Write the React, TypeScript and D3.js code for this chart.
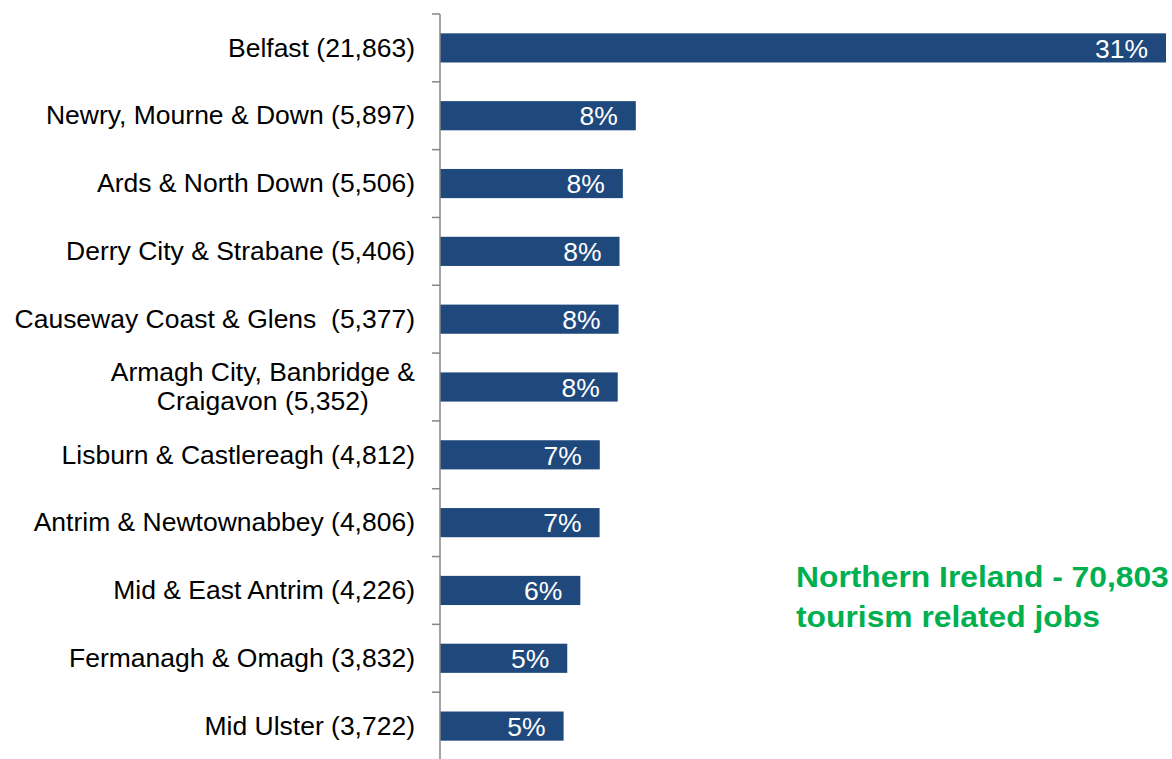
import { useEffect, useRef, useState } from "react";
import * as d3 from "d3";

const WIDTH = 1172;
const HEIGHT = 759;
const MARGIN = { top: 14, right: 6, bottom: 0, left: 440 };
const FONT = "'Liberation Sans', Arial, sans-serif";
const STRETCH = 1.06; // reference text is slightly wider than plain Arial

const districts = [
  ["Belfast (21,863)"],
  ["Newry, Mourne & Down (5,897)"],
  ["Ards & North Down (5,506)"],
  ["Derry City & Strabane (5,406)"],
  ["Causeway Coast & Glens  (5,377)"],
  ["Armagh City, Banbridge &", "Craigavon (5,352)"],
  ["Lisburn & Castlereagh (4,812)"],
  ["Antrim & Newtownabbey (4,806)"],
  ["Mid & East Antrim (4,226)"],
  ["Fermanagh & Omagh (3,832)"],
  ["Mid Ulster (3,722)"],
];
const jobs = [21863, 5897, 5506, 5406, 5377, 5352, 4812, 4806, 4226, 3832, 3722];
const shares = ["31%", "8%", "8%", "8%", "8%", "8%", "7%", "7%", "6%", "5%", "5%"];
const summary = ["Northern Ireland - 70,803", "tourism related jobs"];

const BAR_COLOR = "#1F497D";
const AXIS_COLOR = "#868686";

const Label = ({ lines, y }: { lines: string[]; y: number }) => {
  const first = useRef<SVGTextElement>(null);
  const [w1, setW1] = useState(0);
  useEffect(() => {
    if (first.current) setW1(first.current.getComputedTextLength());
  }, []);
  const style = { whiteSpace: "pre" as const };
  if (lines.length === 1) {
    return (
      <g transform={`translate(-25,${y}) scale(${STRETCH},1)`}>
        <text textAnchor="end" dominantBaseline="central" fontSize={25} style={style}>
          {lines[0]}
        </text>
      </g>
    );
  }
  // wrapped label: lines centered on each other, block right-aligned
  return (
    <g transform={`translate(-25,${y}) scale(${STRETCH},1)`}>
      <text ref={first} y={-14.5} textAnchor="end" dominantBaseline="central" fontSize={25} style={style}>
        {lines[0]}
      </text>
      <text x={-w1 / 2} y={14.5} textAnchor="middle" dominantBaseline="central" fontSize={25} style={style}>
        {lines[1]}
      </text>
    </g>
  );
};

export default function App() {
  const boundsWidth = WIDTH - MARGIN.left - MARGIN.right;
  const boundsHeight = HEIGHT - MARGIN.top - MARGIN.bottom + 1;

  const names = districts.map((d) => d.join(" "));
  const yScale = d3.scaleBand().domain(names).range([0, boundsHeight]).paddingInner(0.57).paddingOuter(0.285);
  const bandStep = yScale.step();
  const xScale = d3.scaleLinear().domain([0, d3.max(jobs) as number]).range([0, boundsWidth]);

  const ticks = d3.range(districts.length + 1).map((i) => i * bandStep);

  return (
    <svg width={WIDTH} height={HEIGHT} style={{ position: "absolute", left: 0, top: 0, fontFamily: FONT }}>
      <g transform={`translate(${MARGIN.left},${MARGIN.top})`}>
        {districts.map((lines, i) => {
          const y = yScale(names[i]) as number;
          const cy = y + yScale.bandwidth() / 2;
          const w = xScale(jobs[i]);
          return (
            <g key={i}>
              <rect x={0} y={y} width={w} height={yScale.bandwidth()} fill={BAR_COLOR} />
              <g transform={`translate(${w - 18},${cy + 1}) scale(${STRETCH},1)`}>
                <text textAnchor="end" dominantBaseline="central" fontSize={25} fill="#ffffff">
                  {shares[i]}
                </text>
              </g>
              <Label lines={lines} y={cy} />
            </g>
          );
        })}
        <line x1={0} x2={0} y1={0} y2={boundsHeight} stroke={AXIS_COLOR} strokeWidth={1.5} />
        {ticks.map((t, i) => (
          <line key={i} x1={-8} x2={0} y1={t} y2={t} stroke={AXIS_COLOR} strokeWidth={1.5} />
        ))}
      </g>
      <g transform={`translate(796,587) scale(${STRETCH},1)`}>
        <text fontSize={30} fontWeight="bold" fill="#00B050">
          {summary.map((s, i) => (
            <tspan key={i} x={0} y={i * 40}>
              {s}
            </tspan>
          ))}
        </text>
      </g>
    </svg>
  );
}
